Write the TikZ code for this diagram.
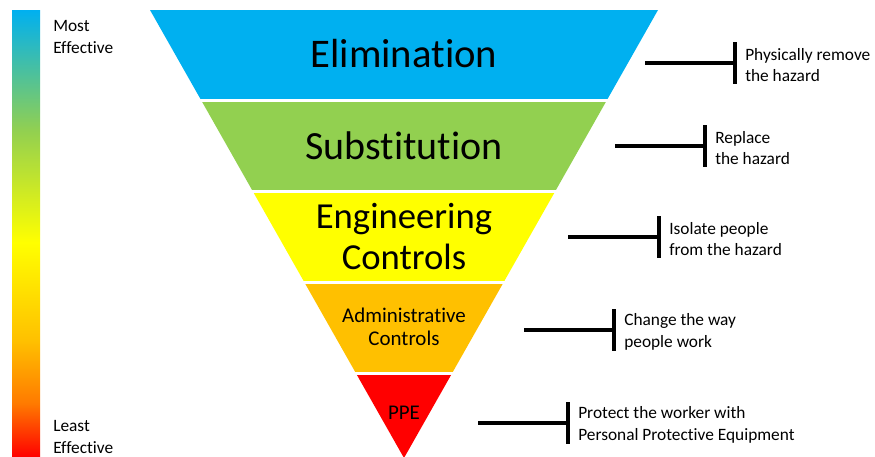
\documentclass[tikz,border=0pt]{standalone}
\usepackage{fontspec}
\setmainfont{Carlito}[Ligatures={NoCommon,NoRequired,NoContextual}]
\definecolor{cblue}{HTML}{00B0F0}
\definecolor{cgreen}{HTML}{92D050}
\definecolor{cyellow}{HTML}{FFFF00}
\definecolor{corange}{HTML}{FFC000}
\definecolor{cred}{HTML}{FF0000}
\definecolor{cdorange}{HTML}{FF7A00}
\pgfdeclareverticalshading{effbar}{100bp}{color(0bp)=(cred); color(25bp)=(cred); color(31bp)=(cdorange); color(38bp)=(corange); color(49bp)=(cyellow); color(61.5bp)=(cgreen); color(75bp)=(cblue); color(100bp)=(cblue)}
\tikzset{
  bandtext/.style={inner sep=0pt, align=center, text=black},
  sidetext/.style={inner sep=0pt, anchor=west, align=left, font=\fontsize{13}{16}\selectfont},
  bracket/.style={line width=2.3pt, black},
}
\begin{document}
\begin{tikzpicture}[x=0.75pt,y=-0.75pt]
\useasboundingbox (0,0) rectangle (875,457);
\clip (0,0) rectangle (875,457);
% gradient bar
\shade[shading=effbar] (12,10) rectangle (40,457);
\node[sidetext] (most) at (53,37) {Most\\Effective};
\node[sidetext] (least) at (53,437) {Least\\Effective};
% inverted triangle bands
\begin{scope}
\clip (150,10) -- (658,10) -- (404,458) -- cycle;
\fill[cblue] (140,10) rectangle (670,98.5);
\fill[cgreen] (140,101.5) rectangle (670,189.5);
\fill[cyellow] (140,192.5) rectangle (670,280.5);
\fill[corange] (140,283.5) rectangle (670,371.5);
\fill[cred] (140,374.5) rectangle (670,470);
\end{scope}
\node[bandtext, font=\fontsize{30.5}{34}\selectfont] (elim) at (404,54) {Elimination};
\node[bandtext, font=\fontsize{30}{34}\selectfont] (subs) at (404,146) {Substitution};
\node[bandtext, font=\fontsize{27.5}{31}\selectfont] (eng) at (404,236.5) {Engineering\\Controls};
\node[bandtext, font=\fontsize{15.7}{17.3}\selectfont] (adm) at (404,327) {Administrative\\Controls};
\node[bandtext, font=\fontsize{15.7}{17.3}\selectfont] (ppe) at (404,413) {PPE};
% brackets and descriptions
\foreach \n/\hx/\vx/\y/\txt in {
  1/645/735/63/{Physically remove\\the hazard},
  2/615/705/146/{Replace\\the hazard},
  3/568/659/237/{Isolate people\\from the hazard},
  4/524/614/330/{Change the way\\people work},
  5/478/568/423/{Protect the worker with\\Personal Protective Equipment}}{
  \coordinate (h\n) at (\hx,\y);
  \coordinate (v\n) at (\vx,\y);
  \coordinate (vt\n) at (\vx,\y-21);
  \coordinate (vb\n) at (\vx,\y+21);
  \draw[bracket] (h\n) -- (v\n);
  \draw[bracket] (vt\n) -- (vb\n);
  \node[sidetext] (d\n) at (\vx+10,\y+2) {\txt};
}
\end{tikzpicture}
\end{document}
